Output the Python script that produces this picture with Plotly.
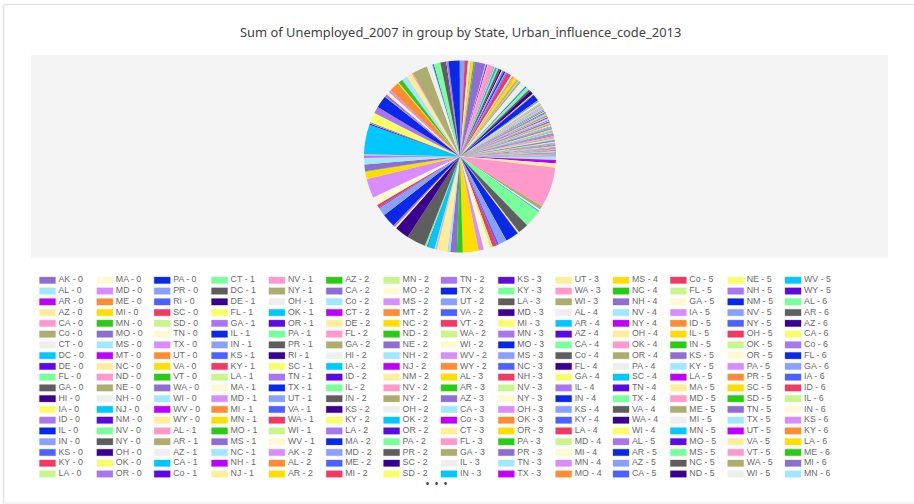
import plotly.graph_objects as go

TITLE = "Sum of Unemployed_2007 in group by State, Urban_influence_code_2013"

# Slice shares (degrees of the circle), listed per urban-influence code.
states_0 = "AK AL AR AZ CA Co CT DC DE FL GA HI IA ID IL IN KS KY LA MA MD ME MI MN MO MS MT NC ND NE NH NJ NM NV NY OH OK OR PA PR RI SC SD TN TX UT VA VT WA WI WV WY".split()
values_0 = [.3, 1.8, 2, 2.6, 24.5, 2.2, 1, .5, .2, 10.5, 6, .3, .8, .3, 8, 5, 1.3, 2.7, 1.5, 4, 3, .2, 9.5, 3.5, 4, 1.5, .1, 6.5, .7, .4, .3, 4.5, .4, 1.2, 11.5, 8.7, 1, 1.2, 8.3, 5, .7, 1.7, .3, 4.8, 11.5, .2, 4.4, .3, 4, 4.2, .7, .2]

states_1 = "AL AR AZ CA Co CT DC DE FL GA IL IN KS KY LA MA MD MI MN MO MS NC NH NJ NV NY OH OK OR PA PR RI SC TN TX UT VA WA WI WV".split()
values_1 = [.6, .2, .2, 18, .8, .3, .3, .2, 6, 4, 7.5, .5, .5, .7, .5, 1.5, 1.5, 6, .6, 2.4, .4, 3, .1, 3.5, .8, 9.3, 3.3, .5, .5, 4, 3, .5, .2, 1.2, 6.8, 2.6, .3, 2, .7, .8]

states_2 = "AK AL AR AZ CA Co CT DE FL GA HI IA ID IL IN KS KY LA MA MD ME MI MN MO MS MT NC ND NE NH NJ NM NV NY OH OK OR PA PR SC SD TN TX UT VA VT WA WI WV WY".split()
values_2 = [.2, .4, 1.2, .8, 6.5, .5, .8, .4, 3.2, .8, .3, .9, .3, 1, 1.2, 1, .4, 1, 1, .6, .6, 2.7, .5, .5, .5, .7, 2.2, .4, .3, .3, .2, .2, .2, 1.2, 3.5, .5, .5, 2, 1.2, 2.2, .4, .5, 4, .5, .3, .15, .5, .5, .3, .15]

states_3 = "AL AR AZ CA Co CT FL GA IL IN KS KY LA MD MI MN MO MS NC NH NV NY OH OK OR PA PR TN TX UT WA WI".split()
values_3 = [.5, .25, .3, .9, .3, .2, .7, .45, .3, .35, .2, .4, .35, .12, .4, .3, .3, .25, .35, .05, .08, .3, .3, .25, .25, .4, .3, .4, .6, .1, .3, .2]

states_4 = "AL AR AZ CA Co FL GA IL IN KS KY LA MD MI MN MO MS NC NH NV NY OH OK OR PA SC TN TX VA WA WI".split()
values_4 = [.2, .2, .08, .3, .1, .2, .3, .2, .25, .1, .2, .2, .05, .2, .15, .2, .2, .3, .04, .03, .15, .3, .12, .12, .3, .2, .25, .3, .2, .1, .15]

states_5 = "AL AR AZ CA Co FL GA IA ID IL IN KS KY LA MA MD ME MI MN MO MS NC ND NE NH NM NV NY OH OK OR PA PR SC SD TN TX UT VA VT WA WI WV WY".split()
values_5 = [.25, .2, .1, .2, .08, .15, .25, .2, .06, .3, .3, .1, .25, .12, .03, .06, .1, .3, .25, .2, .15, .3, .03, .06, .06, .08, .05, .25, .35, .12, .15, .35, .3, .2, .03, .3, .25, .05, .2, .05, .2, .2, .12, .03]

states_6 = "AL AR AZ CA Co FL GA IA ID IL IN KS KY LA ME MI MN MO MS MT NC ND NE NM NV NY OH OK OR PA SC SD TN TX UT VA WA WI WV WY".split()
values_6 = [.15, .15, .05, .12, .05, .12, .2, .12, .05, .2, .18, .06, .2, .1, .06, .18, .15, .15, .12, .04, .25, .02, .05, .05, .02, .12, .15, .1, .05, .12, .12, .02, .2, .2, .04, .15, .1, .12, .1, .02]

states_7 = "AL AR AZ CA Co FL GA IA ID IL IN KS KY LA ME MI MN MO MS MT NC ND NE NM NV NY OH OK OR PA SC SD TN TX UT VA WA WI WV WY".split()
values_7 = [.08, .1, .04, .06, .03, .08, .12, .06, .03, .1, .06, .04, .12, .06, .04, .1, .06, .08, .08, .03, .1, .02, .03, .03, .01, .05, .06, .07, .03, .05, .05, .02, .1, .12, .02, .08, .04, .06, .07, .01]

states_8 = "AL AR AZ CA Co FL GA IA ID IL IN KS KY LA ME MI MN MO MS MT NC ND NE NM NV NY OH OK OR PA SC SD TN TX UT VA WA WI WV WY".split()
values_8 = [.06, .08, .03, .05, .02, .05, .1, .05, .02, .06, .04, .03, .1, .05, .03, .07, .05, .06, .07, .02, .06, .01, .02, .02, .01, .04, .05, .05, .02, .04, .04, .01, .08, .09, .02, .07, .03, .05, .05, .01]

states_9 = "AL AR AZ CA Co GA IA ID IL IN KS KY LA ME MI MN MO MS MT NC ND NE NM NV NY OH OK OR PA SD TN TX UT VA WA WI WV WY".split()
values_9 = [.03, .05, .02, .03, .02, .05, .05, .02, .04, .02, .03, .06, .03, .02, .05, .04, .05, .04, .02, .04, .01, .03, .02, .01, .02, .02, .04, .02, .03, .01, .05, .06, .01, .05, .02, .03, .03, .01]

states_by_code = [states_0, states_1, states_2, states_3, states_4, states_5, states_6, states_7, states_8, states_9]
values_by_code = [values_0, values_1, values_2, values_3, values_4, values_5, values_6, values_7, values_8, values_9]

palette = ["#8E6FD1", "#A0E8FF", "#BF00FF", "#FFEE99", "#FF99CC", "#ADAD6F", "#EEEEEE", "#00C8FF",
           "#5B0BE0", "#77FF99", "#5E5E5E", "#3A0090", "#F8FF66", "#A776F0", "#0A28E8", "#8AA0FF",
           "#4C62FF", "#F03A64", "#C8F58C", "#FFF9D2", "#D98CFF", "#FF8C33", "#FFDD00", "#28CC14"]

labels, values = [], []
for code, (sts, vals) in enumerate(zip(states_by_code, values_by_code)):
    for s, v in zip(sts, vals):
        labels.append(f"{s} - {code}")
        values.append(v)
colors = [palette[i % len(palette)] for i in range(len(labels))]


def soft(hex_color, alpha=0.3):
    r, g, b = (int(hex_color[k:k + 2], 16) for k in (1, 3, 5))
    return f"rgba({r},{g},{b},{alpha})"


W, H = 914, 504
PIE_CX, PIE_CY, PIE_R = 460, 156.5, 96
N_COLS, N_ROWS = 14, 19
LEG_X, LEG_DX, LEG_Y, LEG_DY = 39.5, 57.35, 280.3, 10.76
SW_W, SW_H = 16, 6.5
TITLE_FONT = "Noto Sans, sans-serif"
LEG_FONT = "Liberation Sans, sans-serif"

fig = go.Figure()
fig.add_trace(go.Pie(
    labels=labels, values=values, sort=False, direction="clockwise", rotation=90,
    marker=dict(colors=colors, line=dict(width=0)), textinfo="none", showlegend=False,
    domain=dict(x=[(PIE_CX - PIE_R) / W, (PIE_CX + PIE_R) / W],
                y=[1 - (PIE_CY + PIE_R) / H, 1 - (PIE_CY - PIE_R) / H]),
))

legend_n = N_COLS * N_ROWS
leg_x, leg_y, shapes = [], [], []
for i in range(legend_n):
    c, r = i // N_ROWS, i % N_ROWS
    x, y = LEG_X + c * LEG_DX, LEG_Y + r * LEG_DY
    leg_x.append(x + SW_W + 3)
    leg_y.append(y)
    shapes.append(dict(type="rect", xref="x", yref="y", layer="above",
                       x0=x, x1=x + SW_W, y0=y - SW_H / 2, y1=y + SW_H / 2,
                       fillcolor=colors[i], line=dict(width=1, color=soft(colors[i]))))

fig.add_trace(go.Scatter(x=leg_x, y=leg_y, mode="text", text=labels[:legend_n], textposition="middle right",
                         textfont=dict(family=LEG_FONT, size=8.8, color="#6a6a6a"), hoverinfo="skip", showlegend=False))
fig.add_trace(go.Scatter(x=[436.5], y=[484], mode="text", text=["\u2022\u00a0\u00a0\u2022\u00a0\u00a0\u2022"], textposition="middle center",
                         textfont=dict(family=LEG_FONT, size=10, color="#444444"), hoverinfo="skip", showlegend=False))

frame = [
    dict(type="rect", xref="x", yref="y", layer="below", x0=31, x1=888, y0=55, y1=257.5, fillcolor="#F4F4F4", line=dict(width=0)),
    dict(type="line", xref="x", yref="y", layer="below", x0=3.5, x1=914, y0=4.5, y1=4.5, line=dict(color="#E4E4E4", width=1.5)),
    dict(type="line", xref="x", yref="y", layer="below", x0=3.5, x1=3.5, y0=4.5, y1=503, line=dict(color="#E4E4E4", width=1.5)),
    dict(type="line", xref="x", yref="y", layer="below", x0=3.5, x1=914, y0=503, y1=503, line=dict(color="#E8E8E8", width=1)),
]

fig.update_layout(
    width=W, height=H, margin=dict(l=0, r=0, t=0, b=0, pad=0), autosize=False,
    paper_bgcolor="white", plot_bgcolor="rgba(0,0,0,0)", showlegend=False,
    xaxis=dict(range=[0, W], domain=[0, 1], visible=False, fixedrange=True),
    yaxis=dict(range=[H, 0], domain=[0, 1], visible=False, fixedrange=True),
    shapes=frame + shapes,
    annotations=[dict(text=TITLE, xref="x", yref="y", x=460, y=32, showarrow=False, xanchor="center", yanchor="middle",
                      font=dict(family=TITLE_FONT, size=12.9, color="#3f3f3f"))],
)
fig.write_html("out.html", config=dict(displayModeBar=False),
               post_script="document.documentElement.style.overflow='hidden';document.body.style.margin='0';")
